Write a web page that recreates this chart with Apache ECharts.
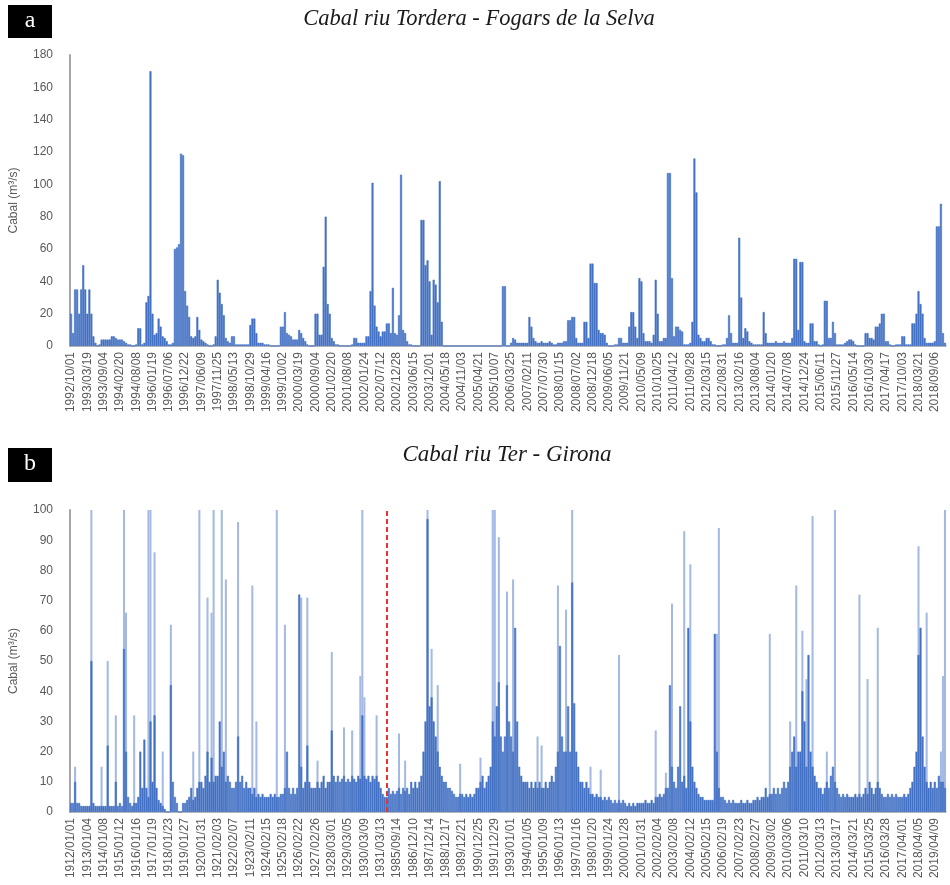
<!DOCTYPE html>
<html><head><meta charset="utf-8">
<script src="https://cdn.jsdelivr.net/npm/echarts@6/dist/echarts.min.js"></script>
<style>html,body{margin:0;padding:0;background:#fff}#c{width:950px;height:885px}</style>
</head><body><div id="c"></div>
<script>
// ---- Panel a: Tordera (Fogars de la Selva), binned flow values (m3/s), 8 bins per tick label
const torderaTicks = ["1992/10/01","1993/03/19","1993/09/04","1994/02/20","1994/08/08","1996/01/19","1996/07/06","1996/12/22","1997/06/09","1997/11/25","1998/05/13","1998/10/29","1999/04/16","1999/10/02","2000/03/19","2000/09/04","2001/02/20","2001/08/08","2002/01/24","2002/07/12","2002/12/28","2003/06/15","2003/12/01","2004/05/18","2004/11/03","2005/04/21","2005/10/07","2006/03/25","2007/02/11","2007/07/30","2008/01/15","2008/07/02","2008/12/18","2009/06/05","2009/11/21","2010/05/09","2010/10/25","2011/04/12","2011/09/28","2012/03/15","2012/08/31","2013/02/16","2013/08/04","2014/01/20","2014/07/08","2014/12/24","2015/06/11","2015/11/27","2016/05/14","2016/10/30","2017/04/17","2017/10/03","2018/03/21","2018/09/06"];
const torderaFlow = [
20,8,35,35,20,35,50,35,20,35,
20,6,2,0,1,4,4,4,4,4,
6,6,5,4,4,4,3,2,1,1,
0,0,1,11,11,1,2,27,31,170,
20,7,8,17,12,6,5,3,1,1,
2,60,61,63,119,118,34,25,18,6,
5,6,18,10,4,3,2,1,0,0,
1,6,41,33,26,19,5,3,2,6,
6,1,1,1,1,1,1,1,13,17,
17,8,2,2,2,1,1,1,0,0,
0,0,0,12,12,21,8,7,6,4,
4,4,10,8,5,3,1,0,0,0,
20,20,7,7,49,80,26,20,5,3,
1,1,0,0,0,0,0,0,1,5,
5,2,2,2,2,6,6,34,101,25,
12,9,6,9,9,14,14,8,36,8,
7,19,106,10,8,3,1,1,0,0,
0,0,78,78,50,53,40,7,41,38,
27,102,15,0,0,0,0,0,0,0,
0,0,0,0,0,0,0,0,0,0,
0,0,0,0,0,0,0,0,0,0,
0,0,37,37,0,0,2,5,4,2,
2,2,2,2,2,18,12,5,3,2,
2,3,2,2,2,3,2,1,1,2,
2,2,3,3,16,16,18,18,5,2,
2,2,15,15,5,51,51,39,39,10,
8,8,7,2,0,0,0,1,1,5,
5,2,2,2,12,21,21,12,5,42,
40,8,3,3,3,2,7,41,20,3,
3,5,5,107,107,42,6,12,12,10,
9,1,1,1,2,15,116,95,7,5,
3,3,5,5,3,1,1,0,0,0,
1,1,5,19,8,2,2,2,67,30,
5,11,9,3,2,1,1,1,1,1,
21,8,2,2,2,2,3,2,2,2,
3,2,2,2,5,54,54,10,52,52,
3,2,2,14,14,3,3,1,0,1,
28,28,5,5,15,8,1,1,1,1,
2,3,4,4,3,1,0,0,0,0,
8,8,5,5,4,12,12,14,20,20,
3,3,1,0,0,1,1,1,6,6,
1,1,1,14,14,20,34,26,20,5,
2,2,2,2,3,74,74,88,8,2
];

// ---- Panel b: Ter (Girona), 8 bins per tick label
const terTicks = ["1912/01/01","1913/01/04","1914/01/08","1915/01/12","1916/01/16","1917/01/19","1918/01/23","1919/01/27","1920/01/31","1921/02/03","1922/02/07","1923/02/11","1924/02/15","1925/02/18","1926/02/22","1927/02/26","1928/03/01","1929/03/05","1930/03/09","1931/03/13","1985/09/14","1986/12/10","1987/12/14","1988/12/17","1989/12/21","1990/12/25","1991/12/29","1993/01/01","1994/01/05","1995/01/09","1996/01/13","1997/01/16","1998/01/20","1999/01/24","2000/01/28","2001/01/31","2002/02/04","2003/02/08","2004/02/12","2005/02/15","2006/02/19","2007/02/23","2008/02/27","2009/03/02","2010/03/06","2011/03/10","2012/03/13","2013/03/17","2014/03/21","2015/03/25","2016/03/28","2017/04/01","2018/04/05","2019/04/09"];
// typical (dense) flow in each bin
const terBase = [
3,3,10,3,3,2,2,2,
2,2,50,3,2,2,2,2,
2,2,22,2,2,2,10,2,
3,2,54,20,5,3,2,3,
3,5,20,8,24,8,5,30,
10,32,8,4,3,2,1,0,
0,42,10,5,3,0,0,3,
3,4,5,8,4,5,8,10,
10,8,12,20,10,18,10,12,
12,30,15,20,10,12,10,8,
8,10,25,10,12,8,10,8,
8,6,8,5,6,5,6,5,
5,5,6,5,6,5,5,6,
6,8,20,8,6,8,6,8,
72,15,8,10,22,10,8,8,
8,10,8,10,12,8,10,10,
27,12,10,12,10,11,12,10,
11,10,12,11,10,12,11,32,
12,11,12,10,12,11,12,10,
8,6,5,5,8,6,7,6,
7,8,6,8,7,8,6,10,
8,10,8,10,12,20,30,97,
35,38,30,25,20,15,12,10,
10,8,8,7,6,5,5,6,
6,5,6,5,6,5,6,8,
8,10,12,8,10,12,15,30,
25,35,43,25,20,25,42,30,
25,20,61,30,15,12,10,10,
10,8,10,8,10,8,10,8,
8,10,8,10,12,10,15,20,
55,25,20,20,35,20,76,36,
20,15,10,10,8,10,8,6,
6,5,6,5,5,4,5,4,
5,4,3,4,3,4,3,4,
3,2,3,2,3,2,3,3,
3,3,4,3,3,4,3,5,
5,6,5,6,8,8,42,15,
10,8,15,35,10,12,8,61,
30,15,10,8,6,5,5,4,
4,4,4,4,59,20,8,5,
5,4,3,4,3,4,3,3,
3,4,3,3,4,3,3,4,
4,5,4,5,5,8,5,6,
6,8,6,8,6,8,10,8,
10,15,20,25,15,20,20,40,
30,15,52,20,15,12,10,8,
8,6,8,10,8,12,15,10,
8,6,5,6,5,6,5,5,
5,6,5,6,5,6,8,6,
10,8,6,8,10,8,6,5,
5,6,5,6,5,6,5,5,
5,6,5,6,8,10,15,20,
52,61,25,15,10,8,10,8,
10,8,12,10,10,8
];
// short flood peaks: [bin, value]
const terPeaks = [
[2,15],[10,100],[15,15],[18,50],[22,32],[26,100],[27,66],[31,32],[38,100],[39,100],[41,86],[45,20],[49,62],
[60,20],[63,100],[67,71],[69,66],[70,100],[74,100],[76,77],[82,96],[89,75],[91,30],[101,100],[105,62],
[113,71],[116,71],[121,17],[128,53],[134,28],[138,27],[142,45],[143,100],[144,38],[150,32],
[161,26],[164,17],[175,100],[177,54],[180,42],[191,16],[201,18],[207,100],[208,100],[210,91],[214,73],[217,77],
[229,25],[231,22],[239,75],[243,67],[246,100],[255,15],[260,14],[269,52],[287,27],[292,13],[295,69],
[301,93],[304,82],[317,59],[318,94],[343,59],[353,30],[356,75],[359,60],[361,44],[364,98],[371,20],[375,100],
[387,72],[391,44],[396,61],[416,88],[420,66],[427,20],[428,45],[429,100]
];
const terBreakBin = 155; // dashed line marking the gap 1931 -> 1985

const BINS_PER_TICK = 8;
function binCats(n){ const a=[]; for(let i=0;i<n;i++) a.push(String(i)); return a; }

const FONT = '"Liberation Sans", Arial, sans-serif';
const GREY = '#595959';
const AXIS = '#a6a6a6';
const BLUE = '#4472C4';
const LIGHT = '#a4b9e3';

function xAxisFor(idx, n, ticks){
  return {
    type:'category', gridIndex: idx, data: binCats(n), boundaryGap: true,
    axisLine:{show:true, lineStyle:{color:AXIS, width:1.5}},
    axisTick:{show:false},
    axisLabel:{interval: BINS_PER_TICK-1, rotate:90, margin:6, fontSize:12, color:GREY, fontFamily:FONT,
      formatter:(v)=> ticks[Math.round(Number(v)/BINS_PER_TICK)] || ''},
    splitLine:{show:false}
  };
}
function yAxisFor(idx, max, interval){
  return {
    type:'value', gridIndex: idx, min:0, max:max, interval:interval,
    name:'Cabal (m³/s)', nameLocation:'middle', nameGap:50, nameRotate:90,
    nameTextStyle:{fontSize:12, color:GREY, fontFamily:FONT},
    axisLine:{show:true, lineStyle:{color:AXIS, width:2}},
    axisTick:{show:false},
    axisLabel:{fontSize:12, color:GREY, fontFamily:FONT, margin:17},
    splitLine:{show:false}
  };
}

const chart = echarts.init(document.getElementById('c'), null, {renderer:'canvas'});
chart.setOption({
  animation:false,
  backgroundColor:'#fff',
  grid:[
    {left:67, top:55, width:879, height:291, containLabel:false},
    {left:67, top:510, width:879, height:302, containLabel:false}
  ],
  xAxis:[ xAxisFor(0, torderaFlow.length, torderaTicks), xAxisFor(1, terBase.length, terTicks) ],
  yAxis:[ yAxisFor(0, 180, 20), yAxisFor(1, 100, 10) ],
  graphic:[
    {type:'rect', left:8, top:5, shape:{width:44, height:33}, style:{fill:'#000'}},
    {type:'text', x:30, y:21, style:{text:'a', fill:'#fff', font:'24px "Liberation Serif", serif', textAlign:'center', textVerticalAlign:'middle'}},
    {type:'rect', left:8, top:448, shape:{width:44, height:34}, style:{fill:'#000'}},
    {type:'text', x:30, y:464, style:{text:'b', fill:'#fff', font:'24px "Liberation Serif", serif', textAlign:'center', textVerticalAlign:'middle'}},
    {type:'text', x:479, y:19, style:{text:'Cabal riu Tordera - Fogars de la Selva', fill:'#1a1a1a', font:'italic 22.5px "Liberation Serif", serif', textAlign:'center', textVerticalAlign:'middle'}},
    {type:'text', x:507, y:455, style:{text:'Cabal riu Ter - Girona', fill:'#1a1a1a', font:'italic 23px "Liberation Serif", serif', textAlign:'center', textVerticalAlign:'middle'}}
  ],
  series:[
    {type:'bar', xAxisIndex:0, yAxisIndex:0, data:torderaFlow, barCategoryGap:'0%', barGap:'-100%',
     itemStyle:{color:BLUE, borderColor:BLUE, borderWidth:0.6}},
    {type:'bar', xAxisIndex:1, yAxisIndex:1, data:terPeaks, barCategoryGap:'0%', barGap:'-100%',
     itemStyle:{color:LIGHT}},
    {type:'bar', xAxisIndex:1, yAxisIndex:1, data:terBase, barCategoryGap:'0%', barGap:'-100%',
     itemStyle:{color:BLUE, borderColor:BLUE, borderWidth:0.6},
     markLine:{silent:true, symbol:['none','none'], label:{show:false},
       lineStyle:{color:'#e8322d', type:[5,3], width:2},
       data:[{xAxis: terBreakBin}]}}
  ]
});
</script>
</body></html>
